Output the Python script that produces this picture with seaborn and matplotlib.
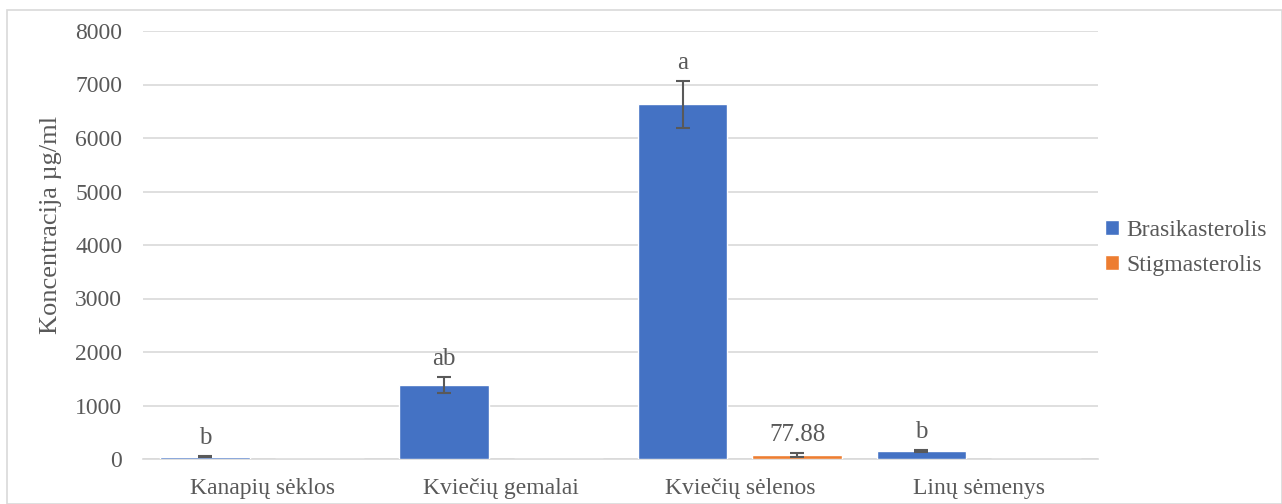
import matplotlib
matplotlib.use("Agg")
import matplotlib.pyplot as plt
import seaborn as sns
import pandas as pd
import numpy as np
from matplotlib.patches import Rectangle

categories = ["Kanapių sėklos", "Kviečių gemalai", "Kviečių sėlenos", "Linų sėmenys"]
series = ["Brasikasterolis", "Stigmasterolis"]
brasikasterolis = [45, 1385, 6630, 150]
brasikasterolis_err = [8, 150, 440, 18]
stigmasterolis = [0, 0, 77.88, 0]
stigmasterolis_err = [0, 0, 40, 0]
brasik_labels = ["b", "ab", "a", "b"]
stigma_labels = ["", "", "77.88", ""]

df = pd.DataFrame({
    "Kategorija": categories * 2,
    "Serija": [series[0]] * 4 + [series[1]] * 4,
    "Reikšmė": brasikasterolis + stigmasterolis,
})
errs = brasikasterolis_err + stigmasterolis_err
labels = brasik_labels + stigma_labels
values = brasikasterolis + stigmasterolis

sns.set_theme(style="white")
plt.rcParams["font.family"] = ["Liberation Serif", "DejaVu Serif"]
text_col = "#595959"

fig = plt.figure(figsize=(12.82, 5.04), dpi=100)
ax = fig.add_axes([143 / 1282, 1 - 459 / 504, (1098 - 143) / 1282, (459 - 31) / 504])

sns.barplot(data=df, x="Kategorija", y="Reikšmė", hue="Serija",
            palette=["#4472C4", "#ED7D31"], width=0.96, gap=0.22,
            errorbar=None, ax=ax, saturation=1, legend=True, zorder=3)

patches = list(ax.patches)[:8]
for p, v, e, lab in zip(patches, values, errs, labels):
    xc = p.get_x() + p.get_width() / 2
    if e > 0:
        ax.errorbar(xc, v, yerr=e, color="#595959", capsize=5, elinewidth=1.5,
                    capthick=1.5, fmt="none", zorder=4)
    if lab:
        ax.annotate(lab, (xc, v + e), xytext=(0, 5), textcoords="offset points",
                    ha="center", va="bottom", fontsize=18, color=text_col)

ax.set_ylim(0, 8000)
ax.set_xlim(-0.5, 3.5)
ax.set_yticks(np.arange(0, 8001, 1000))
ax.yaxis.grid(True, color="#d9d9d9", linewidth=1.2)
ax.set_axisbelow(True)
for s in ["top", "right", "left"]:
    ax.spines[s].set_visible(False)
ax.spines["bottom"].set_color("#d9d9d9")
ax.spines["bottom"].set_linewidth(1.2)
ax.spines["bottom"].set_zorder(2)
ax.tick_params(axis="both", length=0, labelsize=17, colors=text_col)
ax.tick_params(axis="x", pad=14)
ax.tick_params(axis="y", pad=15)
ax.set_xlabel("")
ax.set_ylabel("Koncentracija µg/ml", fontsize=19, color=text_col)
ax.yaxis.set_label_coords(-0.085, 0.547)

leg = ax.legend(loc="center left", bbox_to_anchor=(1.0, 0.493), frameon=False,
                fontsize=17, handlelength=0.6, handleheight=0.6, handletextpad=0.3,
                labelspacing=0.6, borderaxespad=0.1, borderpad=0.2)
for t in leg.get_texts():
    t.set_color(text_col)

fig.patches.append(Rectangle((7 / 1282, 0), 1 - 7 / 1282, 1 - 10 / 504,
                             transform=fig.transFigure, fill=False,
                             edgecolor="#d9d9d9", linewidth=1.2))

fig.savefig("out.png", dpi=100)
